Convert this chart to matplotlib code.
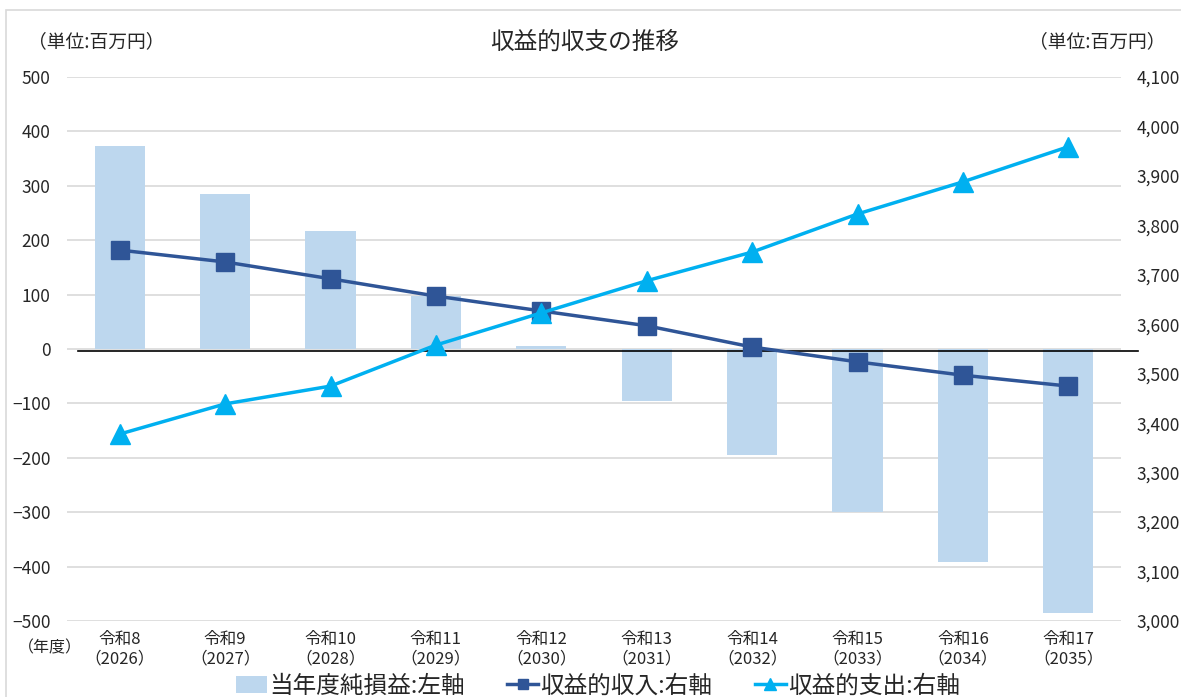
import numpy as np
import matplotlib as mpl
mpl.use('Agg')
import matplotlib.pyplot as plt
from matplotlib.patches import Rectangle
from matplotlib.ticker import FuncFormatter, MultipleLocator
import matplotlib.transforms as mtransforms

plt.rcParams['font.family'] = ['Noto Sans CJK JP', 'DejaVu Sans']

bar_color = '#BDD7EE'
rev_color = '#2F5597'
exp_color = '#00B0F0'
grid_color = '#D9D9D9'
text_color = '#262626'

reiwa = ['令和8', '令和9', '令和10', '令和11', '令和12',
         '令和13', '令和14', '令和15', '令和16', '令和17']
years = [2026, 2027, 2028, 2029, 2030, 2031, 2032, 2033, 2034, 2035]

# 当年度純損益 (left axis)
net_profit = [373, 285, 216, 98, 5, -95, -195, -300, -392, -486]
# 収益的収入 / 収益的支出 (right axis)
revenue = [3750, 3726, 3692, 3657, 3627, 3597, 3554, 3524, 3497, 3475]
expense = [3378, 3439, 3475, 3558, 3623, 3688, 3746, 3823, 3888, 3959]

W, H = 1181, 697
fig = plt.figure(figsize=(W / 100, H / 100), dpi=100)
ax = fig.add_axes([67 / W, 1 - 621 / H, 1054 / W, 544 / H])
ax2 = ax.twinx()

x = np.arange(len(years))
ax.bar(x, net_profit, width=0.475, color=bar_color, zorder=2,
       label='当年度純損益:左軸')
ax.set_xlim(-0.5, len(years) - 0.5)
ax.set_ylim(-500, 500)
ax.yaxis.set_major_locator(MultipleLocator(100))
ax.grid(axis='y', color=grid_color, linewidth=1.2, zorder=0)
ax.set_axisbelow(True)

ax2.plot(x, revenue, color=rev_color, linewidth=2.5, marker='s',
         markersize=13, zorder=4, label='収益的収入:右軸')
ax2.plot(x, expense, color=exp_color, linewidth=2.5, marker='^',
         markersize=15, zorder=4, label='収益的支出:右軸')
ax2.set_ylim(3000, 4100)
ax2.yaxis.set_major_locator(MultipleLocator(100))
ax2.yaxis.set_major_formatter(FuncFormatter(lambda v, p: f'{int(v):,}'))

# baseline drawn slightly past the plot area
trans = mtransforms.blended_transform_factory(ax.transAxes, ax.transData)
ax.plot([0.0104, 1.016], [-4.5, -4.5], color='black', linewidth=1.2,
        transform=trans, clip_on=False, zorder=3)

for a in (ax, ax2):
    for s in a.spines.values():
        s.set_visible(False)
    a.tick_params(length=0, labelsize=12.5, colors=text_color)
ax.tick_params(axis='y', pad=12)
ax2.tick_params(axis='y', pad=11)

ax.set_xticks(x)
ax.set_xticklabels([f'{r}\n（{y}）' for r, y in zip(reiwa, years)],
                   fontsize=12, linespacing=1.2)
ax.tick_params(axis='x', pad=7)
ax2.set_zorder(ax.get_zorder() + 1)
ax2.patch.set_visible(False)

fig.text(585 / W, 1 - 42 / H, '収益的収支の推移', ha='center', va='center',
         fontsize=17, color=text_color)
fig.text(28 / W, 1 - 42 / H, '（単位:百万円）', ha='left', va='center',
         fontsize=13.5, color=text_color)
fig.text(1166 / W, 1 - 42 / H, '（単位:百万円）', ha='right', va='center',
         fontsize=13.5, color=text_color)
fig.text(50 / W, 1 - 648 / H, '（年度）', ha='center', va='center',
         fontsize=11.5, color=text_color)

# outer frame
fig.patches.append(Rectangle((6 / W, -0.1), 1.2, 1 - 10 / H + 0.1,
                             transform=fig.transFigure, fill=False,
                             edgecolor=grid_color, linewidth=1.2))

h1, l1 = ax.get_legend_handles_labels()
h2, l2 = ax2.get_legend_handles_labels()
fig.legend(h1 + h2, l1 + l2, loc='center', bbox_to_anchor=(598 / W, 1 - 686 / H),
           ncol=3, frameon=False, fontsize=17, handlelength=1.3,
           handletextpad=0.1, columnspacing=1.8, markerscale=0.6,
           labelcolor=text_color)

fig.savefig('out.png', dpi=100)
